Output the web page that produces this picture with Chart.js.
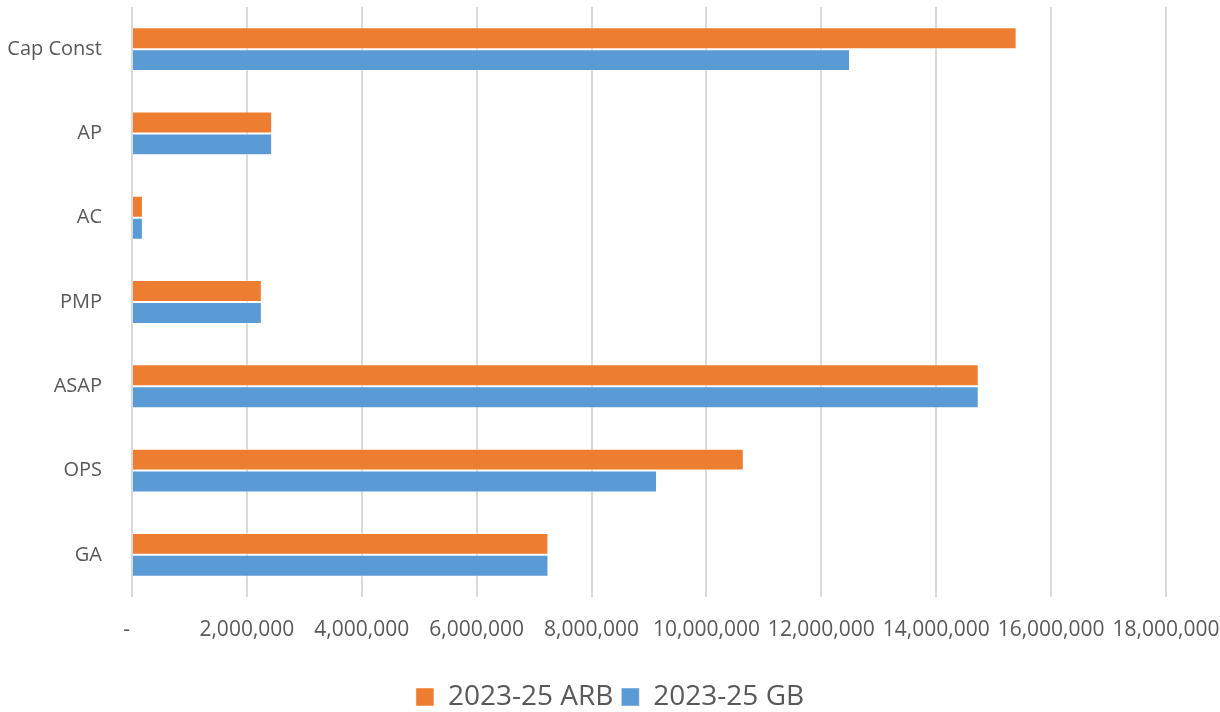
<!DOCTYPE html>
<html>
<head>
<meta charset="utf-8">
<script src="https://cdn.jsdelivr.net/npm/chart.js@4.4.1/dist/chart.umd.min.js"></script>
<style>
    html, body { margin: 0; padding: 0; background: #fff; }
    #wrap { width: 1220px; height: 712px; }
</style>
</head>
<body>
<div id="wrap"><canvas id="budgetChart"></canvas></div>
<script>
const categories = ['Cap Const', 'AP', 'AC', 'PMP', 'ASAP', 'OPS', 'GA'];
const arbValues  = [15400000, 2440000, 190000, 2260000, 14740000, 10650000, 7250000];
const gbValues   = [12500000, 2440000, 190000, 2260000, 14740000, 9140000, 7250000];
const xTicks     = [0, 2000000, 4000000, 6000000, 8000000, 10000000, 12000000, 14000000, 16000000, 18000000];

const ORANGE = '#ED7D31';
const BLUE   = '#5B9BD5';
const TEXT   = '#595959';
const FONT   = "'Open Sans', sans-serif";

new Chart(document.getElementById('budgetChart').getContext('2d'), {
    type: 'bar',
    data: {
        labels: categories,
        datasets: [
            {
                label:           '2023-25 ARB',
                data:            arbValues,
                backgroundColor: ORANGE,
                borderColor:     'rgba(255, 255, 255, 0.45)',
                borderWidth:     1,
            },
            {
                label:           '2023-25 GB',
                data:            gbValues,
                backgroundColor: BLUE,
                borderColor:     'rgba(255, 255, 255, 0.45)',
                borderWidth:     1,
            },
        ],
    },
    options: {
        indexAxis: 'y',
        responsive: true,
        maintainAspectRatio: false,
        animation: false,
        datasets: { bar: { categoryPercentage: 0.52, barPercentage: 1 } },
        layout: { padding: { left: 0, top: 7, right: 0, bottom: 0 } },
        scales: {
            x: {
                min: 0,
                max: 18000000,
                afterBuildTicks: scale => { scale.ticks = xTicks.map(v => ({ value: v })); },
                // fixed band under the plot; room on the right for the last label
                afterFit: scale => {
                    scale.height = 78;
                    scale.paddingLeft = 0;
                    scale.paddingRight = 54;
                },
                grid:   { color: '#d9d9d9', lineWidth: 2, drawTicks: false },
                border: { display: false },
                ticks: {
                    padding:  20,
                    color:    TEXT,
                    font:     { family: FONT, size: 21 },
                    maxRotation: 0,
                    autoSkip: false,
                    callback: v => v === 0 ? '-  ' : v.toLocaleString('en-US'),
                },
            },
            y: {
                afterFit: scale => {
                    scale.width = 132;
                    scale.paddingTop = 0;
                    scale.paddingBottom = 0;
                },
                grid:   { display: false },
                border: { display: false },
                ticks: {
                    padding: 22,
                    color:   TEXT,
                    font:    { family: FONT, size: 20 },
                },
            },
        },
        plugins: {
            legend: {
                position:  'bottom',
                maxHeight: 37,
                labels: {
                    color:     TEXT,
                    font:      { family: FONT, size: 28 },
                    boxWidth:  18,
                    boxHeight: 18,
                    padding:   8,
                },
            },
            tooltip: { enabled: false },
        },
    },
});
</script>
</body>
</html>
